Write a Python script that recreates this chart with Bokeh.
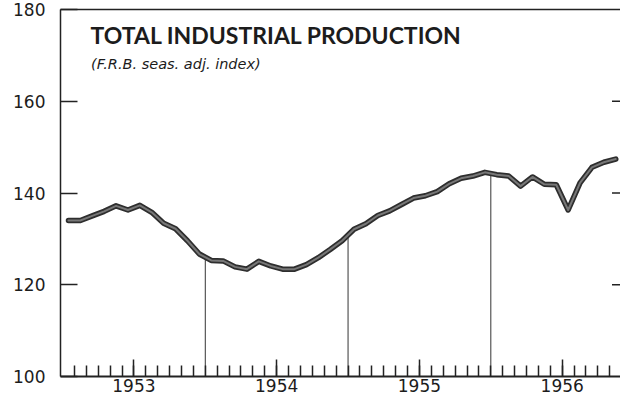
from bokeh.plotting import figure
from bokeh.models import FixedTicker, LinearAxis, Label, Range1d
from bokeh.embed import file_html
from bokeh.resources import INLINE

# ---- data -------------------------------------------------------------
years = ["1953", "1954", "1955", "1956"]
v1953 = [134.0, 134.0, 135.0, 136.0, 137.2, 136.3, 137.3, 135.8, 133.4, 132.2, 129.6, 126.7]
v1954 = [125.3, 125.2, 123.9, 123.4, 125.1, 124.1, 123.4, 123.4, 124.4, 125.9, 127.7, 129.6]
v1955 = [132.1, 133.3, 135.1, 136.1, 137.5, 138.9, 139.4, 140.3, 142.0, 143.2, 143.7, 144.5]
v1956 = [144.0, 143.7, 141.5, 143.5, 141.9, 141.8, 136.3, 142.2, 145.6, 146.7, 147.4]
y_ticks = [100, 120, 140, 160, 180]
title_text = "TOTAL INDUSTRIAL PRODUCTION"
subtitle_text = "(F.R.B. seas. adj. index)"

values = v1953 + v1954 + v1955 + v1956
month_x = [i + 0.5 for i in range(len(values))]           # mid-month positions
year_start = [12 * k for k in range(1, len(years))]       # Jan of 1954, 1955, 1956
year_tops = [(values[b - 1] + values[b]) / 2 for b in year_start]
mid_year = [12 * k + 6 for k in range(len(years))]
month_ticks = list(range(1, 48))

X0, X1 = -0.17, 46.9
TEXT = "#1c1c1c"
INK = "#222222"
NUMFONT = "DejaVu Sans"

p = figure(width=620, height=397, output_backend="svg", toolbar_location=None,
           x_range=Range1d(X0, X1), y_range=Range1d(y_ticks[0], y_ticks[-1]),
           min_border_left=60, min_border_right=0, min_border_top=9, min_border_bottom=21)
p.outline_line_color = None
p.xgrid.visible = False
p.ygrid.visible = False
p.background_fill_color = "white"
p.border_fill_color = "white"

# bottom axis
xa = p.xaxis[0]
xa.ticker = FixedTicker(ticks=mid_year, minor_ticks=month_ticks)
xa.major_label_overrides = {m: y for m, y in zip(mid_year, years)}
xa.major_tick_in = 17
xa.major_tick_out = 0
xa.minor_tick_in = 11
xa.minor_tick_out = 0
xa.axis_line_width = 2
xa.axis_line_color = INK
xa.major_tick_line_width = 1.5
xa.minor_tick_line_width = 1.5
xa.major_tick_line_color = INK
xa.minor_tick_line_color = INK
xa.major_label_standoff = 2
xa.major_label_text_font = NUMFONT
xa.major_label_text_font_size = "17px"
xa.major_label_text_color = TEXT

# left axis
ya = p.yaxis[0]
ya.ticker = FixedTicker(ticks=y_ticks)
ya.major_tick_in = 17
ya.major_tick_out = 0
ya.minor_tick_line_color = None
ya.axis_line_width = 1.5
ya.axis_line_color = INK
ya.major_tick_line_width = 1.5
ya.major_tick_line_color = INK
ya.major_label_standoff = 15
ya.major_label_text_font = NUMFONT
ya.major_label_text_font_size = "17px"
ya.major_label_text_color = TEXT

# top border
ta = LinearAxis(ticker=FixedTicker(ticks=[]), major_label_standoff=0,
                major_tick_in=0, major_tick_out=0,
                minor_tick_line_color=None, axis_line_width=1.5, axis_line_color=INK)
p.add_layout(ta, "above")

# right-hand inward ticks (dash markers centred on the frame edge)
p.scatter(x=[X1] * len(y_ticks[1:-1]), y=y_ticks[1:-1], marker="dash", size=17,
          line_color=INK, line_width=1.5)

# year boundary lines
p.segment(x0=year_start, y0=[y_ticks[0]] * len(year_start), x1=year_start, y1=year_tops,
          line_color="#333333", line_width=1)

# main series (dark edge + mottled core)
p.line(month_x, values, line_color="#2e2e2e", line_width=5.5, line_join="round", line_cap="round")
p.line(month_x, values, line_color="#8a8a8a", line_width=2, line_join="round", line_cap="round",
       line_alpha=0.8)

# title texts
p.add_layout(Label(x=2.35, y=174.5, text=title_text, text_font="Lato", text_font_style="bold",
                   text_font_size="23px", text_color=TEXT, text_baseline="alphabetic"))
p.add_layout(Label(x=2.4, y=168.2, text=subtitle_text, text_font="DejaVu Sans",
                   text_font_style="italic", text_font_size="14.5px", text_color=TEXT,
                   text_baseline="alphabetic"))

open("out.html", "w").write(file_html(p, INLINE))
